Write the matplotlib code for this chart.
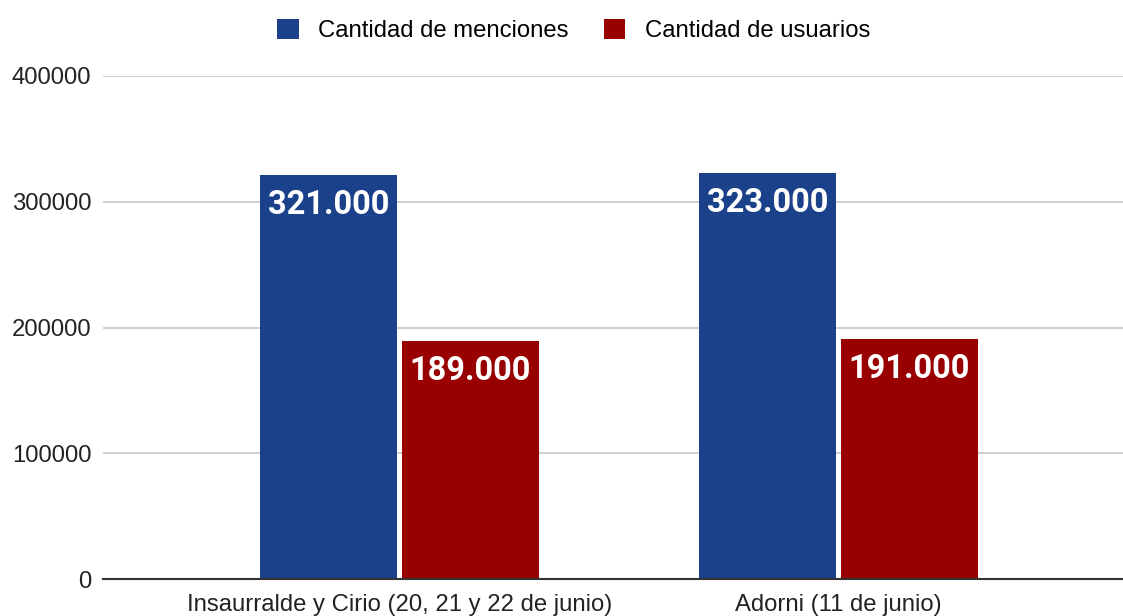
import matplotlib
matplotlib.use("Agg")
import matplotlib.pyplot as plt
from matplotlib.patches import Patch
import numpy as np

plt.rcParams["font.family"] = ["Liberation Sans", "DejaVu Sans"]

categories = ["Insaurralde y Cirio (20, 21 y 22 de junio)", "Adorni (11 de junio)"]
menciones = [321000, 323000]
usuarios = [189000, 191000]
labels_menciones = ["321.000", "323.000"]
labels_usuarios = ["189.000", "191.000"]
series_names = ["Cantidad de menciones", "Cantidad de usuarios"]
yticks = [0, 100000, 200000, 300000, 400000]

blue = "#1a418a"
red = "#990000"

W, H = 1123, 616
fig = plt.figure(figsize=(W / 100, H / 100), dpi=100)
ax = fig.add_axes([103 / W, (H - 579) / H, (1123 - 103) / W, (579 - 76) / H])

x = np.arange(len(categories))
width = 0.312
off = 0.1617
b1 = ax.bar(x - off, menciones, width, color=blue, zorder=3)
b2 = ax.bar(x + off, usuarios, width, color=red, zorder=3)

for bars, labs in ((b1, labels_menciones), (b2, labels_usuarios)):
    for rect, lab in zip(bars, labs):
        ax.annotate(lab, (rect.get_x() + rect.get_width() / 2, rect.get_height()),
                    xytext=(0, -10), textcoords="offset points", ha="center", va="top",
                    color="white", fontsize=23.5, fontweight="bold", family="Roboto", zorder=4)

ax.set_xlim(-0.675, 1.648)
ax.set_ylim(0, 400000)
ax.set_yticks(yticks)
ax.set_yticklabels([str(v) for v in yticks])
ax.set_xticks(x)
ax.set_xticklabels(categories)
ax.tick_params(axis="both", length=0, labelsize=17.2, colors="#222222")
ax.tick_params(axis="y", pad=8.5)
ax.tick_params(axis="x", pad=11)
ax.grid(axis="y", color="#cccccc", linewidth=1.3, zorder=0)
for s in ["top", "right", "left"]:
    ax.spines[s].set_visible(False)
ax.spines["bottom"].set_color("#333333")
ax.spines["bottom"].set_linewidth(1.5)
ax.spines["bottom"].set_zorder(5)

handles = [Patch(facecolor=blue), Patch(facecolor=red)]
fig.legend(handles, series_names, loc="upper center", bbox_to_anchor=(573.5 / W, 1.004), ncol=2,
           frameon=False, fontsize=17.2, handlelength=0.9, handleheight=0.9,
           handletextpad=0.8, columnspacing=1.5)

fig.savefig("out.png", dpi=100)
